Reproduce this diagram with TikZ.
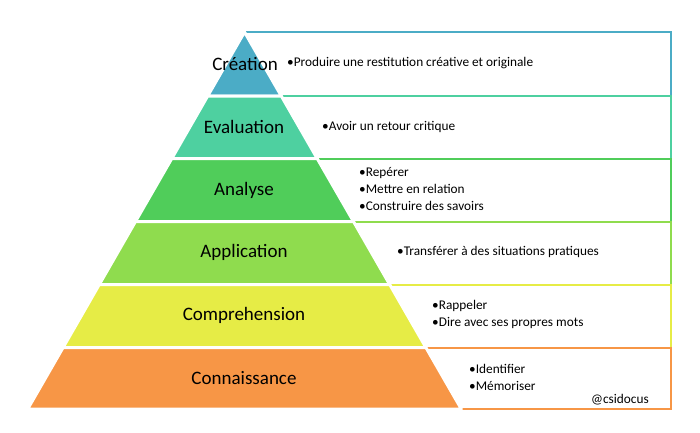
\documentclass[tikz,border=0pt]{standalone}
\usepackage{fontspec}
\setmainfont{Carlito}
\usepackage{xcolor}
\usepackage{tikz}
\definecolor{cCrea}{RGB}{75,172,198}
\definecolor{cEval}{RGB}{78,208,160}
\definecolor{cAnal}{RGB}{80,205,90}
\definecolor{cAppl}{RGB}{143,220,78}
\definecolor{cComp}{RGB}{230,236,70}
\definecolor{cConn}{RGB}{247,150,70}

\begin{document}
\begin{tikzpicture}[x=1pt, y=-1pt,
  box/.style={line width=2pt, fill=white},
  level/.style={draw=white, line width=3pt, line join=round},
  lab/.style={inner sep=0pt, font=\fontsize{19}{22}\selectfont},
  info/.style={anchor=west, align=left, inner sep=0pt, font=\fontsize{13.3}{17}\selectfont}]
\useasboundingbox (0,0) rectangle (700,432);
% boxes on the right
\draw[box, draw=cCrea] (244.5,32) rectangle (671,96);
\draw[box, draw=cEval] (244.5,96) rectangle (671,158.5);
\draw[box, draw=cAnal] (244.5,158.5) rectangle (671,221.5);
\draw[box, draw=cAppl] (244.5,221.5) rectangle (671,284.5);
\draw[box, draw=cComp] (244.5,284.5) rectangle (671,347.5);
\draw[box, draw=cConn] (244.5,347.5) rectangle (671,409);
% pyramid
\filldraw[level, fill=cCrea] (244.5,32) -- (281.3,96) -- (207.7,96) -- cycle;
\filldraw[level, fill=cEval] (207.7,96) -- (281.3,96) -- (317.2,158.5) -- (171.8,158.5) -- cycle;
\filldraw[level, fill=cAnal] (171.8,158.5) -- (317.2,158.5) -- (353.5,221.5) -- (135.5,221.5) -- cycle;
\filldraw[level, fill=cAppl] (135.5,221.5) -- (353.5,221.5) -- (389.7,284.5) -- (99.3,284.5) -- cycle;
\filldraw[level, fill=cComp] (99.3,284.5) -- (389.7,284.5) -- (425.9,347.5) -- (63.1,347.5) -- cycle;
\filldraw[level, fill=cConn] (63.1,347.5) -- (425.9,347.5) -- (461.3,409) -- (27.7,409) -- cycle;
% level names
\node[lab] (crea) at (245,64) {Création};
\node[lab] (eval) at (244,127) {Evaluation};
\node[lab] (anal) at (244,190) {Analyse};
\node[lab] (appl) at (244,252) {Application};
\node[lab] (comp) at (244,315) {Comprehension};
\node[lab] (conn) at (244,378) {Connaissance};
% what each level means
\node[info] (creaTxt) at (287,63) {•Produire une restitution créative et originale};
\node[info] (evalTxt) at (322,127) {•Avoir un retour critique};
\node[info] (analTxt) at (359,189) {•Repérer\\•Mettre en relation\\•Construire des savoirs};
\node[info] (applTxt) at (397,252) {•Transférer à des situations pratiques};
\node[info] (compTxt) at (432,314.5) {•Rappeler\\•Dire avec ses propres mots};
\node[info] (connTxt) at (469,377.5) {•Identifier\\•Mémoriser};
\node[info, anchor=east] (credit) at (649,400) {@csidocus};
\end{tikzpicture}
\end{document}
